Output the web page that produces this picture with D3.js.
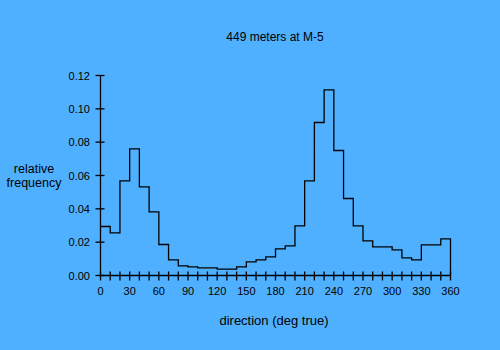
<!DOCTYPE html>
<html>
<head>
<meta charset="utf-8">
<script src="https://cdn.jsdelivr.net/npm/d3@7"></script>
<style>
  html, body { margin: 0; padding: 0; background: #4FB0FF; }
  svg { display: block; }
  text { font-family: "Liberation Sans", Arial, sans-serif; font-size: 11px; fill: #000; }
  .title { font-size: 12px; }
  .axis-label { font-size: 13px; }
  .y-label { font-size: 12.5px; }
</style>
</head>
<body>
<svg id="chart" width="500" height="350"></svg>
<script>
// Direction bins (lower edge, degrees true), 10-degree width
const binStarts = d3.range(0, 360, 10);
// Relative frequency for each 10-degree bin
const frequency = [
  0.0294, 0.0256, 0.0568, 0.0760, 0.0532, 0.0382, 0.0186, 0.0094, 0.0058, 0.0052,
  0.0046, 0.0046, 0.0038, 0.0038, 0.0052, 0.0082, 0.0094, 0.0112, 0.0160, 0.0178,
  0.0298, 0.0568, 0.0918, 0.1114, 0.0750, 0.0462, 0.0298, 0.0208, 0.0172, 0.0172,
  0.0154, 0.0106, 0.0094, 0.0184, 0.0184, 0.0220
];
const xTickLabels = [0, 30, 60, 90, 120, 150, 180, 210, 240, 270, 300, 330, 360];
const yTickLabels = [0.00, 0.02, 0.04, 0.06, 0.08, 0.10, 0.12];

const svg = d3.select("#chart");
const x = d3.scaleLinear().domain([0, 360]).range([100.5, 450.5]);
const y = d3.scaleLinear().domain([0, 0.12]).range([275.5, 75.5]);

// Title and axis labels
svg.append("text").attr("class", "title").attr("x", 275).attr("y", 41).attr("text-anchor", "middle")
  .text("449 meters at M-5");
svg.append("text").attr("class", "axis-label").attr("x", 274).attr("y", 325).attr("text-anchor", "middle")
  .text("direction (deg true)");
svg.append("text").attr("class", "y-label").attr("x", 34).attr("y", 173).attr("text-anchor", "middle")
  .text("relative");
svg.append("text").attr("class", "y-label").attr("x", 34).attr("y", 187).attr("text-anchor", "middle")
  .text("frequency");

// X axis: ticks every 10 degrees crossing the axis line, labels every 30
const gx = svg.append("g");
gx.append("line").attr("x1", x(0)).attr("x2", x(360)).attr("y1", y(0)).attr("y2", y(0))
  .attr("stroke", "#000").attr("stroke-width", 1.3);
gx.selectAll("line.tick").data(d3.range(0, 361, 10)).join("line").attr("class", "tick")
  .attr("x1", d => x(d)).attr("x2", d => x(d))
  .attr("y1", y(0) - 4).attr("y2", y(0) + 5)
  .attr("stroke", "#000").attr("stroke-width", 1.3);
gx.selectAll("text").data(xTickLabels).join("text")
  .attr("x", d => x(d)).attr("y", 295).attr("text-anchor", "middle")
  .text(d => d);

// Y axis: ticks crossing the axis line, labels with two decimals
const gy = svg.append("g");
gy.append("line").attr("x1", x(0)).attr("x2", x(0)).attr("y1", y(0)).attr("y2", y(0.12))
  .attr("stroke", "#000").attr("stroke-width", 1.3);
gy.selectAll("line.tick").data(yTickLabels).join("line").attr("class", "tick")
  .attr("x1", x(0) - 5).attr("x2", x(0) + 4)
  .attr("y1", d => y(d)).attr("y2", d => y(d))
  .attr("stroke", "#000").attr("stroke-width", 1.3);
gy.selectAll("text").data(yTickLabels).join("text")
  .attr("x", 90).attr("y", d => y(d) + 4).attr("text-anchor", "end")
  .text(d => d3.format(".2f")(d));

// Stepped histogram outline
const pts = [];
binStarts.forEach((b, i) => {
  pts.push([b, frequency[i]]);
  pts.push([b + 10, frequency[i]]);
});
pts.push([360, 0]);
const line = d3.line().x(d => x(d[0])).y(d => y(d[1]));
svg.append("path").attr("d", line(pts))
  .attr("fill", "none").attr("stroke", "#000").attr("stroke-width", 1.3);
</script>
</body>
</html>
